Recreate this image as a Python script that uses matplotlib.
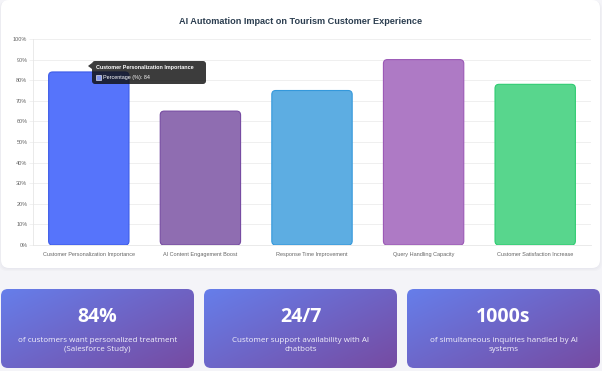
import matplotlib.pyplot as plt
import numpy as np
from matplotlib.patches import FancyBboxPatch, Polygon, Rectangle
from matplotlib.colors import LinearSegmentedColormap

# data
categories = ['Customer Personalization Importance', 'AI Content Engagement Boost',
              'Response Time Improvement', 'Query Handling Capacity',
              'Customer Satisfaction Increase']
percentages = [84, 65, 75, 90, 78]
bar_fills = ['#5674fb', '#8f6db1', '#5dade2', '#ae7ac5', '#58d68d']
bar_edges = ['#3d5ce8', '#764ba2', '#3498db', '#9b59b6', '#2ecc71']

stat_values = ['84%', '24/7', '1000s']
stat_texts = ['of customers want personalized treatment\n(Salesforce Study)',
              'Customer support availability with AI\nchatbots',
              'of simultaneous inquiries handled by AI\nsystems']

W, H = 602, 371
fig = plt.figure(figsize=(W / 100, H / 100), dpi=100)
fig.patch.set_facecolor('#f4f4f8')

# background layer in pixel coords
bg = fig.add_axes([0, 0, 1, 1])
bg.set_xlim(0, W)
bg.set_ylim(H, 0)
bg.axis('off')

# white card with soft shadow
for i, a in enumerate([0.03, 0.03, 0.04]):
    bg.add_patch(FancyBboxPatch((1 - i, 1), 599 + 2 * i, 268 + i,
                                boxstyle='round,pad=0,rounding_size=8',
                                fc='#9090a8', ec='none', alpha=a))
bg.add_patch(FancyBboxPatch((1, 0), 599, 268, boxstyle='round,pad=0,rounding_size=8',
                            fc='white', ec='none'))

# stat cards with gradient
grad = LinearSegmentedColormap.from_list('g', ['#667eea', '#764ba2'])
gx, gy = np.meshgrid(np.linspace(0, 1, 200), np.linspace(0, 1, 80))
card_x = [1, 204, 407]
for x0, val, txt in zip(card_x, stat_values, stat_texts):
    cw, ch, y0 = 193, 79, 289
    box = FancyBboxPatch((x0, y0), cw, ch, boxstyle='round,pad=0,rounding_size=7',
                         fc='none', ec='none')
    bg.add_patch(box)
    im = bg.imshow((gx * 0.55 + gy * 0.45), cmap=grad, extent=[x0, x0 + cw, y0 + ch, y0],
                   aspect='auto', zorder=1)
    im.set_clip_path(box)
    bg.text(x0 + cw / 2, 317, val, ha='center', va='center', color='white',
            fontsize=14, fontweight='bold', family='Open Sans', zorder=3)
    bg.text(x0 + cw / 2, 345, txt, ha='center', va='center', color='#f3f1fb',
            fontsize=5.8, family='Open Sans', linespacing=1.3, zorder=3)
bg.set_xlim(0, W)
bg.set_ylim(H, 0)

# chart
ax = fig.add_axes([33 / W, (H - 245) / H, (591 - 33) / W, (245 - 39) / H])
ax.set_facecolor('none')
x = np.arange(len(categories))
bars = ax.bar(x, percentages, width=0.72, color=bar_fills, edgecolor=bar_edges, linewidth=0.8)
ax.set_xlim(-0.5, len(categories) - 0.5)
ax.set_ylim(0, 100)

# rounded bars
px_per_x = (591 - 33) / len(categories)
px_per_y = (245 - 39) / 100
for b, fc, ec in zip(bars, bar_fills, bar_edges):
    b.set_visible(False)
    r = 4 / px_per_x
    ax.add_patch(FancyBboxPatch((b.get_x(), 0), b.get_width(), b.get_height(),
                                boxstyle=f'round,pad=0,rounding_size={r}',
                                mutation_aspect=px_per_x / px_per_y,
                                fc=fc, ec=ec, lw=0.8, zorder=2))

ax.set_yticks(np.arange(0, 101, 10))
ax.set_yticklabels([f'{v}%' for v in range(0, 101, 10)])
ax.set_xticks(x)
ax.set_xticklabels(categories)
ax.tick_params(axis='y', labelsize=4, colors='#666666', length=3, width=0.5,
               color='#ececec', pad=1)
ax.tick_params(axis='x', labelsize=4, colors='#666666', length=0, pad=5)
for lab in ax.get_xticklabels() + ax.get_yticklabels():
    lab.set_family('Liberation Sans')
ax.grid(axis='y', color='#ececec', linewidth=0.6)
ax.set_axisbelow(True)
for s in ['top', 'right']:
    ax.spines[s].set_visible(False)
ax.spines['left'].set_color('#e6e6e6')
ax.spines['bottom'].set_color('#e6e6e6')
ax.spines['left'].set_linewidth(0.6)
ax.spines['bottom'].set_linewidth(0.6)

fig.text(301 / W, 1 - 22 / H, 'AI Automation Impact on Tourism Customer Experience',
         ha='center', va='center', fontsize=6.6, fontweight='bold', color='#2c3e50',
         family='Liberation Sans')

# tooltip for the first bar, on an overlay above the chart
top = fig.add_axes([0, 0, 1, 1])
top.set_xlim(0, W)
top.set_ylim(H, 0)
top.axis('off')
top.patch.set_alpha(0)
top.add_patch(FancyBboxPatch((92, 61), 114, 23, boxstyle='round,pad=0,rounding_size=3',
                             fc='#111111', ec='none', alpha=0.82))
top.add_patch(Polygon([[92, 63], [88, 66], [92, 69]], closed=True, fc='#111111',
                      ec='none', alpha=0.82))
top.text(96, 67, categories[0], fontsize=3.9, fontweight='bold', color='white',
         va='center', family='Liberation Sans')
top.add_patch(Rectangle((96, 75), 5, 5, fc='#8598ee', ec='white', lw=0.4))
top.text(103, 77.5, f'Percentage (%): {percentages[0]}', fontsize=3.9, color='white',
         va='center', family='Liberation Sans')

fig.savefig('out.png', dpi=100, facecolor=fig.get_facecolor())
